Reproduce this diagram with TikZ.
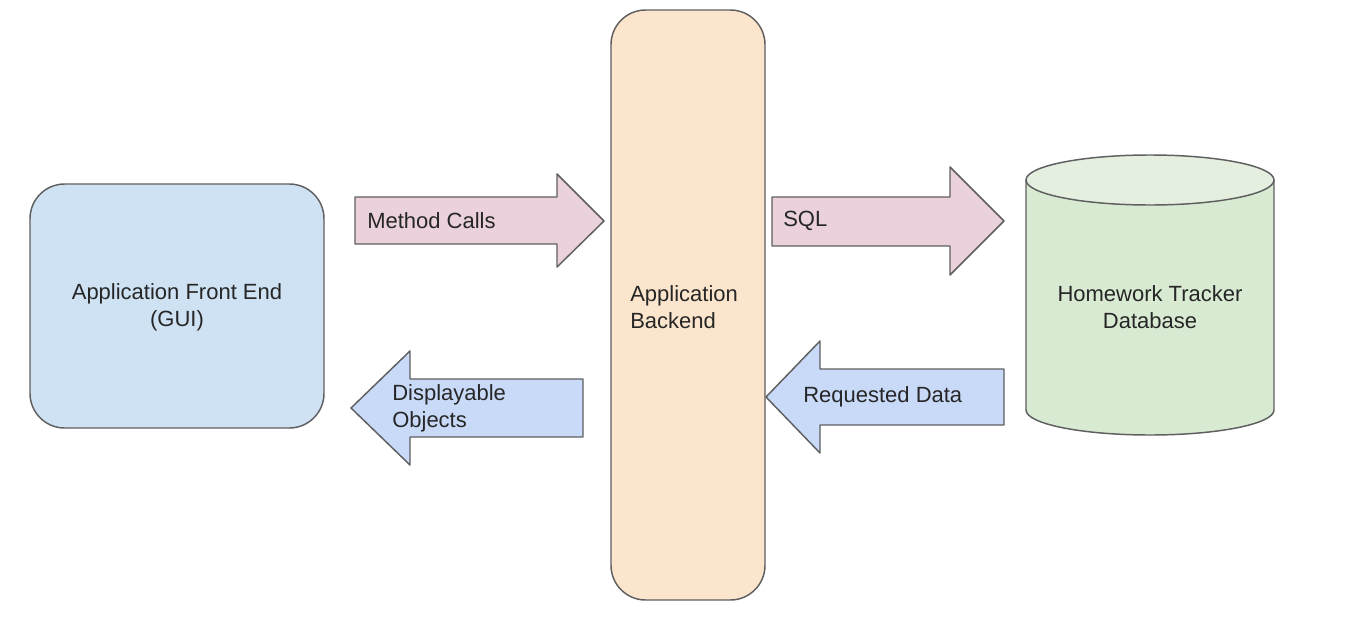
\documentclass[tikz,border=0pt]{standalone}
\usepackage{fontspec}
\setmainfont{Liberation Sans}
\usepackage{xcolor}
\usetikzlibrary{positioning, arrows.meta}

\definecolor{frontBlue}{HTML}{CFE2F3}
\definecolor{backOrange}{HTML}{FCE5CD}
\definecolor{callPink}{HTML}{EAD1DC}
\definecolor{dataBlue}{HTML}{C9DAF8}
\definecolor{dbGreen}{HTML}{D9EAD3}
\definecolor{dbTop}{HTML}{E4EFE0}
\definecolor{edgeGray}{HTML}{5F5F5F}

\begin{document}
\begin{tikzpicture}[x=0.75pt,y=0.75pt,yscale=-1,xscale=1,
                    every node/.style={font=\fontsize{16.5}{20}\selectfont, text=black!85},
                    outline/.style={draw=edgeGray, line width=1.1pt, line join=round}]
\useasboundingbox (0,0) rectangle (1368,632);

%Shape: Rounded box [front end]
\draw [outline, fill=frontBlue, rounded corners=26pt] (30,184) rectangle (324,428);
%Shape: Rounded box [backend]
\draw [outline, fill=backOrange, rounded corners=26pt] (611,10) rectangle (765,600);

%Shape: Cylinder [database]
\draw [outline, fill=dbGreen] (1026,180) -- (1026,410) arc [start angle=180, end angle=0, x radius=124, y radius=25] -- (1274,180) -- cycle ;
\draw [outline, fill=dbTop] (1150,180) ellipse [x radius=124, y radius=25];

%Shape: Right Arrow [method calls]
\draw [outline, fill=callPink] (355,197) -- (557,197) -- (557,174) -- (604,221) -- (557,267) -- (557,244) -- (355,244) -- cycle ;
%Shape: Right Arrow [sql]
\draw [outline, fill=callPink] (772,197) -- (950,197) -- (950,167) -- (1004,221) -- (950,275) -- (950,246) -- (772,246) -- cycle ;
%Shape: Left Arrow [displayable objects]
\draw [outline, fill=dataBlue] (583,379) -- (410,379) -- (410,351) -- (351,408) -- (410,465) -- (410,437) -- (583,437) -- cycle ;
%Shape: Left Arrow [requested data]
\draw [outline, fill=dataBlue] (1004,369) -- (820,369) -- (820,341) -- (766,397) -- (820,453) -- (820,425) -- (1004,425) -- cycle ;

% Text Node
\node (frontText) [align=center] at (177,307) {Application Front End\\(GUI)};
% Text Node
\node (backText) [anchor=west, align=left, inner sep=0pt] at (630,307) {Application\\Backend};
% Text Node
\node (dbText) [align=center] at (1150,307) {Homework Tracker\\Database};
% Text Node
\node (callText) [anchor=west, inner sep=0pt] at (367,221) {Method Calls};
% Text Node
\node (sqlText) [anchor=west, inner sep=0pt] at (783,221) {SQL};
% Text Node
\node (objText) [anchor=west, align=left, inner sep=0pt] at (392,408) {Displayable\\Objects};
% Text Node
\node (dataText) [anchor=west, inner sep=0pt] at (803,397) {Requested Data};

\end{tikzpicture}
\end{document}
